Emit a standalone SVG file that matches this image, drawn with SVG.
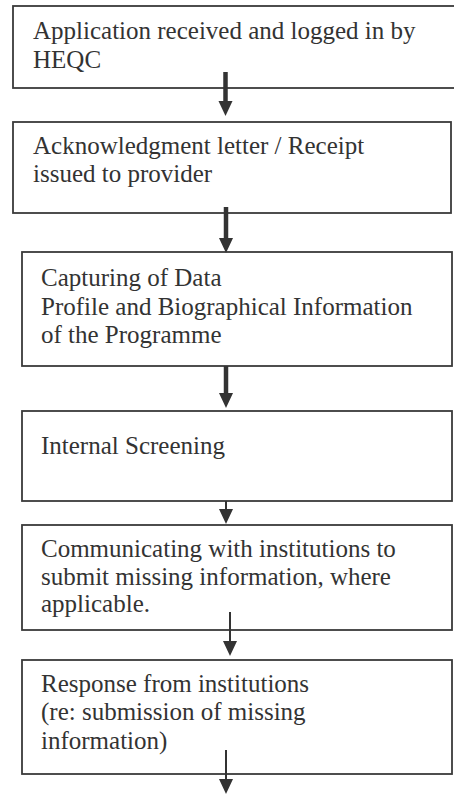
<svg xmlns="http://www.w3.org/2000/svg" width="454" height="794" viewBox="0 0 454 794">
  <defs>
    <style>
      .box { fill: #ffffff; stroke: #3a3a3a; stroke-width: 1.8; }
      .lbl { font-size: 25px; fill: #333333; }
      .thick { stroke: #333333; stroke-width: 4.5; fill: none; }
      .thin { stroke: #333333; stroke-width: 2; fill: none; }
      .head { fill: #333333; }
    </style>
  </defs>
  <rect x="0" y="0" width="454" height="794" fill="#ffffff"/>

  <!-- process steps -->
  <g font-family="'Liberation Serif', 'Times New Roman', serif">
    <g id="step-received">
      <rect class="box" x="13" y="6" width="460" height="82"/>
      <text class="lbl" x="33" y="39">Application received and logged in by</text>
      <text class="lbl" x="33" y="68">HEQC</text>
    </g>
    <g id="step-acknowledgment">
      <rect class="box" x="13" y="122" width="438" height="91"/>
      <text class="lbl" x="33" y="154">Acknowledgment letter / Receipt</text>
      <text class="lbl" x="33" y="182">issued to provider</text>
    </g>
    <g id="step-capturing">
      <rect class="box" x="22" y="252" width="430" height="114"/>
      <text class="lbl" x="41" y="286">Capturing of Data</text>
      <text class="lbl" x="41" y="315">Profile and Biographical Information</text>
      <text class="lbl" x="41" y="343">of the Programme</text>
    </g>
    <g id="step-screening">
      <rect class="box" x="22" y="411" width="430" height="90"/>
      <text class="lbl" x="41" y="454">Internal Screening</text>
    </g>
    <g id="step-communicating">
      <rect class="box" x="22" y="525" width="430" height="105"/>
      <text class="lbl" x="41" y="557">Communicating with institutions to</text>
      <text class="lbl" x="41" y="585">submit missing information, where</text>
      <text class="lbl" x="41" y="612">applicable.</text>
    </g>
    <g id="step-response">
      <rect class="box" x="22" y="660" width="430" height="114"/>
      <text class="lbl" x="41" y="692">Response from institutions</text>
      <text class="lbl" x="41" y="720">(re: submission of missing</text>
      <text class="lbl" x="41" y="749">information)</text>
    </g>
  </g>

  <!-- connectors -->
  <g id="connectors">
    <line class="thick" x1="225.5" y1="72" x2="225.5" y2="102"/>
    <polygon class="head" points="218.5,101 232.5,101 225.5,116"/>

    <line class="thick" x1="226" y1="207" x2="226" y2="239"/>
    <polygon class="head" points="219,238 233,238 226,253"/>

    <line class="thick" x1="226" y1="366" x2="226" y2="394"/>
    <polygon class="head" points="219,393 233,393 226,408"/>

    <line class="thin" x1="226" y1="501" x2="226" y2="511"/>
    <polygon class="head" points="219,509 233,509 226,524"/>

    <line class="thin" x1="230" y1="612" x2="230" y2="643"/>
    <polygon class="head" points="223,641 237,641 230,656"/>

    <line class="thin" x1="226" y1="750" x2="226" y2="781"/>
    <polygon class="head" points="219,779 233,779 226,794"/>
  </g>
</svg>
